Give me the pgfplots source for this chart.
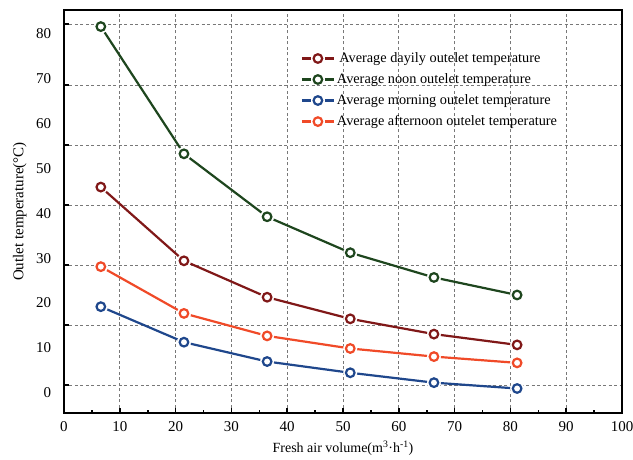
\documentclass[border=0pt]{standalone}
\usepackage{fontspec}
\setmainfont{Liberation Serif}
\usepackage{pgfplots}
\pgfplotsset{compat=1.18}
\definecolor{cRed}{RGB}{128,24,24}
\definecolor{cGreen}{RGB}{30,70,30}
\definecolor{cBlue}{RGB}{31,71,140}
\definecolor{cOrange}{RGB}{240,74,40}
\definecolor{gridgray}{RGB}{120,120,120}
\pgfplotsset{
  myleg/.style={legend image code/.code={
    \draw[line width=2.2bp,#1] (0bp,0bp) -- (9bp,0bp);
    \draw[line width=2.2bp,#1] (23bp,0bp) -- (32bp,0bp);
    \draw[line width=2.2bp,#1,fill=white] (16bp,0bp) circle (4.3bp);
  }},
}
\newcommand{\series}[2]{%
  \addplot[#1, line width=2.2bp, mark=none, forget plot] coordinates {#2};
  \addplot[only marks, mark=*, mark size=6.8bp, mark options={draw=white, fill=white}, forget plot] coordinates {#2};
  \addplot[only marks, #1, mark=*, mark size=4.3bp, mark options={line width=2.2bp, draw=#1, fill=white}, myleg=#1] coordinates {#2};
}
\begin{document}
\fontsize{14bp}{16bp}\selectfont
\begin{tikzpicture}
\begin{axis}[
  scale only axis,
  width=558bp, height=403bp,
  xmin=0, xmax=100, ymin=-4.45, ymax=85.19,
  axis line style={line width=1.6bp},
  xtick={0,10,...,100},
  minor x tick num=1,
  ytick={1.78,15.12,28.47,41.81,55.16,68.51,82.01},
  yticklabels={,,,,,,},
  minor y tick num=1,
  extra y ticks={0,10,20,30,40,50,60,70,80},
  extra y tick labels={0,10,20,30,40,50,60,70,80},
  extra y tick style={grid=none, major tick length=0pt, yticklabel style={xshift=-8bp}},
  xtick pos=bottom, ytick pos=left,
  tick align=inside,
  major tick length=5bp, minor tick length=3.5bp,
  tick style={black, line width=1.6bp},
  grid=major,
  major grid style={gridgray, dashed, line width=0.7bp, dash pattern=on 3bp off 2.5bp},
  /pgf/number format/assume math mode=true,
  tick label style={font=\fontsize{15bp}{17bp}\selectfont},
  xticklabel style={yshift=-4bp},
  xlabel style={font=\fontsize{14bp}{16bp}\selectfont},
  ylabel style={font=\fontsize{15bp}{17bp}\selectfont},
  xlabel={Fresh air volume(m\textsuperscript{3}·h\textsuperscript{-1})},
  ylabel={Outlet temperature(°C)},
  xlabel style={yshift=1bp},
  ylabel style={yshift=0bp},
  legend style={draw=none, fill=none, at={(0.424,0.9)}, anchor=north west,
    font=\fontsize{14.3bp}{16bp}\selectfont, row sep=5bp, inner sep=0pt,
    /tikz/every even column/.append style={column sep=2bp}},
  legend cell align=left,
]
\series{cRed}{(6.6,45.8) (21.5,29.4) (36.4,21.3) (51.3,16.5) (66.3,13.1) (81.2,10.7)}
\addlegendentry{\,Average dayily outelet temperature}
\series{cGreen}{(6.6,81.5) (21.5,53.2) (36.4,39.2) (51.3,31.2) (66.3,25.7) (81.2,21.8)}
\addlegendentry{Average noon outelet temperature}
\series{cBlue}{(6.6,19.2) (21.5,11.3) (36.4,7.0) (51.3,4.5) (66.3,2.3) (81.2,1.0)}
\addlegendentry{Average morning outelet temperature}
\series{cOrange}{(6.6,28.1) (21.5,17.7) (36.4,12.7) (51.3,9.9) (66.3,8.1) (81.2,6.7)}
\addlegendentry{Average afternoon outelet temperature}
\end{axis}
\pgfresetboundingbox
\path[use as bounding box] ([shift={(-64bp,-47bp)}]current axis.south west) rectangle ([shift={(11bp,10bp)}]current axis.north east);
\end{tikzpicture}
\end{document}
